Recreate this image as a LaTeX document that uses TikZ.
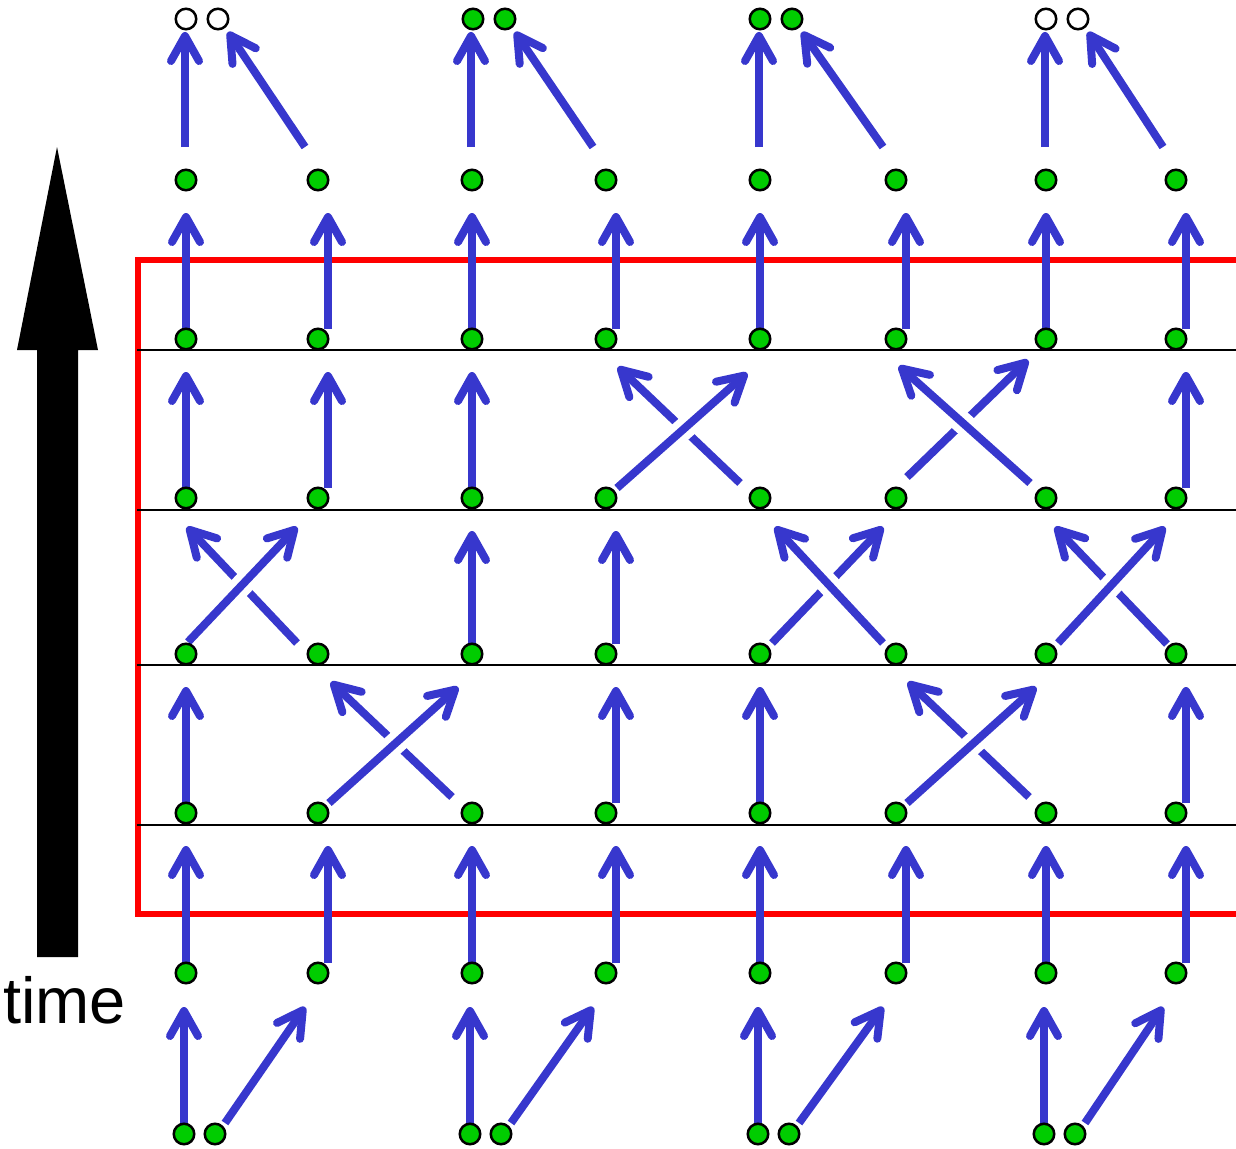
\documentclass[tikz,border=0pt]{standalone}
\usepackage{fontspec}
\setmainfont{Liberation Sans}
\usetikzlibrary{arrows.meta,calc}
\definecolor{arrblue}{RGB}{55,55,205}
\definecolor{dotgreen}{RGB}{0,204,0}
\definecolor{boxred}{RGB}{255,0,0}
\pgfdeclarelayer{fg}
\pgfsetlayers{main,fg}
\newcommand\vA[3]{\draw[arr] (d#1#3.center) -- ($(d#2#3)+(0,33)$);}
\newcommand\vB[3]{\draw[arr] ($(d#1#3)+(10,-10)$) -- ($(d#2#3)+(10,33)$);}
\newcommand\xing[4]{%
  \coordinate (us) at #1; \coordinate (ue) at #2;
  \coordinate (os) at #3; \coordinate (oe) at #4;
  \draw[arr] (us) -- (ue);
  \draw[gapline] ($(os)!0.3!(oe)$) -- ($(os)!0.7!(oe)$);
  \draw[arr] (os) -- (oe);}
\begin{document}
\begin{tikzpicture}[x=1pt,y=-1pt,
  dot/.style={circle,fill=dotgreen,draw=black,line width=2.5pt,minimum size=20.5pt,inner sep=0pt},
  hollow/.style={dot,fill=white},
  arr/.style={draw=arrblue,line width=8pt,-{Straight Barb[length=25pt,width=28pt,round]}},
  gapline/.style={draw=white,line width=22pt},
  rowline/.style={draw=black,line width=2pt},
  redbox/.style={draw=boxred,line width=6.5pt,line join=miter}]
\useasboundingbox (0,0) rectangle (1236,1148);

% dots (foreground layer)
\begin{pgfonlayer}{fg}
\foreach \r/\y in {1/973,2/813,3/654,4/498,5/339,6/180}
  \foreach \c/\x in {1/186,2/318,3/472,4/606,5/760,6/896,7/1046,8/1176}
    \node[dot] (d\r\c) at (\x,\y) {};
\foreach \k/\x in {1/186,2/472,3/760,4/1046}{
  \node[dot] (ba\k) at (\x-2,1134) {};
  \node[dot] (bb\k) at (\x+29,1134) {};
}
\node[hollow] (ta1) at (186,19) {};
\node[hollow] (tb1) at (218,19) {};
\node[dot] (ta2) at (473,19) {};
\node[dot] (tb2) at (505,19) {};
\node[dot] (ta3) at (760,19) {};
\node[dot] (tb3) at (792,19) {};
\node[hollow] (ta4) at (1046,19) {};
\node[hollow] (tb4) at (1078,19) {};
\end{pgfonlayer}

% time arrow and label
\fill[black] (37,957) -- (37,350) -- (17,350) -- (57,147) -- (98,350) -- (78,350) -- (78,957) -- cycle;
\node[anchor=base west,inner sep=0pt,font=\fontsize{65}{72}\selectfont] (timelabel) at (3,1023) {time};

% red box and row lines
\draw[redbox] (1245,260) -- (138,260) -- (138,914) -- (1245,914);
\foreach \y in {350,510,665,825}
  \draw[rowline] (137,\y) -- (1236,\y);

% bottom row
\foreach \k/\A/\B in {1/1/2,2/3/4,3/5/6,4/7/8}{
  \draw[arr] (ba\k.center) -- ($(d1\A)+(-2,34)$);
  \draw[arr] ($(bb\k)+(10,-11)$) -- ($(d1\B)+(-13,34)$);
}
% row 1 -> 2 and 5 -> 6
\foreach \c in {1,3,5,7}{\vA{1}{2}{\c}\vA{5}{6}{\c}}
\foreach \c in {2,4,6,8}{\vB{1}{2}{\c}\vB{5}{6}{\c}}
% row 2 -> 3
\vA{2}{3}{1}\vB{2}{3}{4}\vA{2}{3}{5}\vB{2}{3}{8}
\xing{($(d23)+(-20,-16)$)}{($(d32)+(13,28)$)}{($(d22)+(11,-10)$)}{($(d33)+(-14,33)$)}
\xing{($(d27)+(-17,-16)$)}{($(d36)+(12,28)$)}{($(d26)+(11,-10)$)}{($(d37)+(-10,33)$)}
% row 3 -> 4
\vA{3}{4}{3}\vB{3}{4}{4}
\xing{($(d32)+(-21,-11)$)}{($(d41)+(1,29)$)}{($(d31)+(2,-12)$)}{($(d42)+(-21,29)$)}
\xing{($(d35)+(12,-11)$)}{($(d46)+(-13,29)$)}{($(d36)+(-13,-11)$)}{($(d45)+(15,29)$)}
\xing{($(d38)+(-9,-10)$)}{($(d47)+(9,29)$)}{($(d37)+(12,-11)$)}{($(d48)+(-11,29)$)}
% row 4 -> 5
\vA{4}{5}{1}\vB{4}{5}{2}\vA{4}{5}{3}\vB{4}{5}{8}
\xing{($(d45)+(-20,-15)$)}{($(d54)+(12,28)$)}{($(d44)+(11,-10)$)}{($(d55)+(-13,34)$)}
\xing{($(d46)+(11,-21)$)}{($(d57)+(-18,21)$)}{($(d47)+(-16,-15)$)}{($(d56)+(3,27)$)}
% top row
\foreach \k/\A/\B in {1/1/2,2/3/4,3/5/6,4/7/8}{
  \draw[arr] ($(d6\A)+(-1,-33)$) -- ($(d6\A |- ta\k)+(-1,13)$);
  \draw[arr] ($(d6\B)+(-13,-33)$) -- ($(tb\k)+(10,13)$);
}
\end{tikzpicture}
\end{document}
